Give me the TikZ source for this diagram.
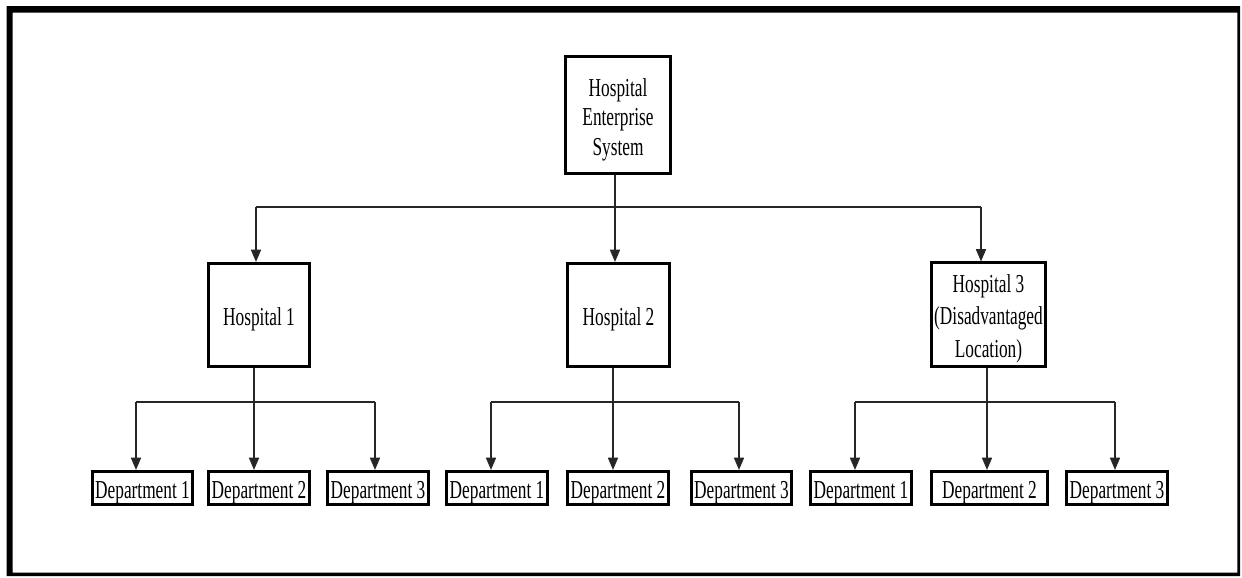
\documentclass[tikz,border=0pt]{standalone}
\usepackage{fontspec}
\setmainfont{Liberation Serif}[FakeStretch=0.67]
\usetikzlibrary{arrows.meta}

\begin{document}
\begin{tikzpicture}[x=0.02cm,y=-0.02cm,>={Triangle[length=7pt,width=5.8pt]}]
	\tikzstyle{box}=[draw=black,line width=1.5pt,inner sep=0pt,align=center,font=\fontsize{14.7}{17}\selectfont]
	\tikzstyle{hosp}=[box,minimum width=2.03cm,minimum height=2.07cm,text height=15.6pt,text depth=3.2pt]
	\tikzstyle{dept}=[box,minimum width=2.01cm,minimum height=0.67cm,text height=15.6pt,text depth=3.2pt]
	\tikzstyle{link}=[line width=0.6pt,draw=black!85]
	\useasboundingbox (0,0) rectangle (1242,578);
	\fill[even odd rule] (6.7,6) rectangle (1240,576) (12.7,12.7) rectangle (1237.3,572.7);

	\node[box,minimum width=2.11cm,minimum height=2.35cm,text height=49.6pt,text depth=3.2pt] (top) at (618,115) {Hospital\\Enterprise\\System};

	\node[hosp] (h1) at (259,315) {Hospital 1};
	\node[hosp] (h2) at (618.5,315) {Hospital 2};
	\node[hosp,minimum width=2.29cm,text height=51.8pt,text depth=2.6pt,font=\fontsize{14.7}{18.7}\selectfont] (h3) at (988.5,314.5) {Hospital 3\\(Disadvantaged\\Location)};

	\node[dept] (d11) at (142.5,488) {Department 1};
	\node[dept] (d12) at (259,488) {Department 2};
	\node[dept] (d13) at (378,488) {Department 3};
	\node[dept] (d21) at (497,488) {Department 1};
	\node[dept] (d22) at (618,488) {Department 2};
	\node[dept] (d23) at (741.5,488) {Department 3};
	\node[dept] (d31) at (861,488) {Department 1};
	\node[dept,minimum width=2.33cm] (d32) at (989.5,488) {Department 2};
	\node[dept] (d33) at (1117,488) {Department 3};

	% top level bus
	\coordinate (b0) at (615,207);
	\coordinate (bl) at (256,207);
	\coordinate (br) at (981,207);
	\draw[link] (top.south -| b0) -- (b0);
	\draw[link] (bl) -- (br);
	\draw[link,->] (bl) -- (bl |- h1.north);
	\draw[link,->] (b0) -- (b0 |- h2.north);
	\draw[link,->] (br) -- (br |- h3.north);

	% hospital 1
	\coordinate (s1) at (254,402);
	\coordinate (l1) at (136,402);
	\coordinate (r1) at (375,402);
	\draw[link] (h1.south -| s1) -- (s1);
	\draw[link] (l1) -- (r1);
	\draw[link,->] (l1) -- (l1 |- d11.north);
	\draw[link,->] (s1) -- (s1 |- d12.north);
	\draw[link,->] (r1) -- (r1 |- d13.north);

	% hospital 2
	\coordinate (s2) at (613,402);
	\coordinate (l2) at (491,402);
	\coordinate (r2) at (739,402);
	\draw[link] (h2.south -| s2) -- (s2);
	\draw[link] (l2) -- (r2);
	\draw[link,->] (l2) -- (l2 |- d21.north);
	\draw[link,->] (s2) -- (s2 |- d22.north);
	\draw[link,->] (r2) -- (r2 |- d23.north);

	% hospital 3
	\coordinate (s3) at (987,402);
	\coordinate (l3) at (855,402);
	\coordinate (r3) at (1115,402);
	\draw[link] (h3.south -| s3) -- (s3);
	\draw[link] (l3) -- (r3);
	\draw[link,->] (l3) -- (l3 |- d31.north);
	\draw[link,->] (s3) -- (s3 |- d32.north);
	\draw[link,->] (r3) -- (r3 |- d33.north);
\end{tikzpicture}
\end{document}
